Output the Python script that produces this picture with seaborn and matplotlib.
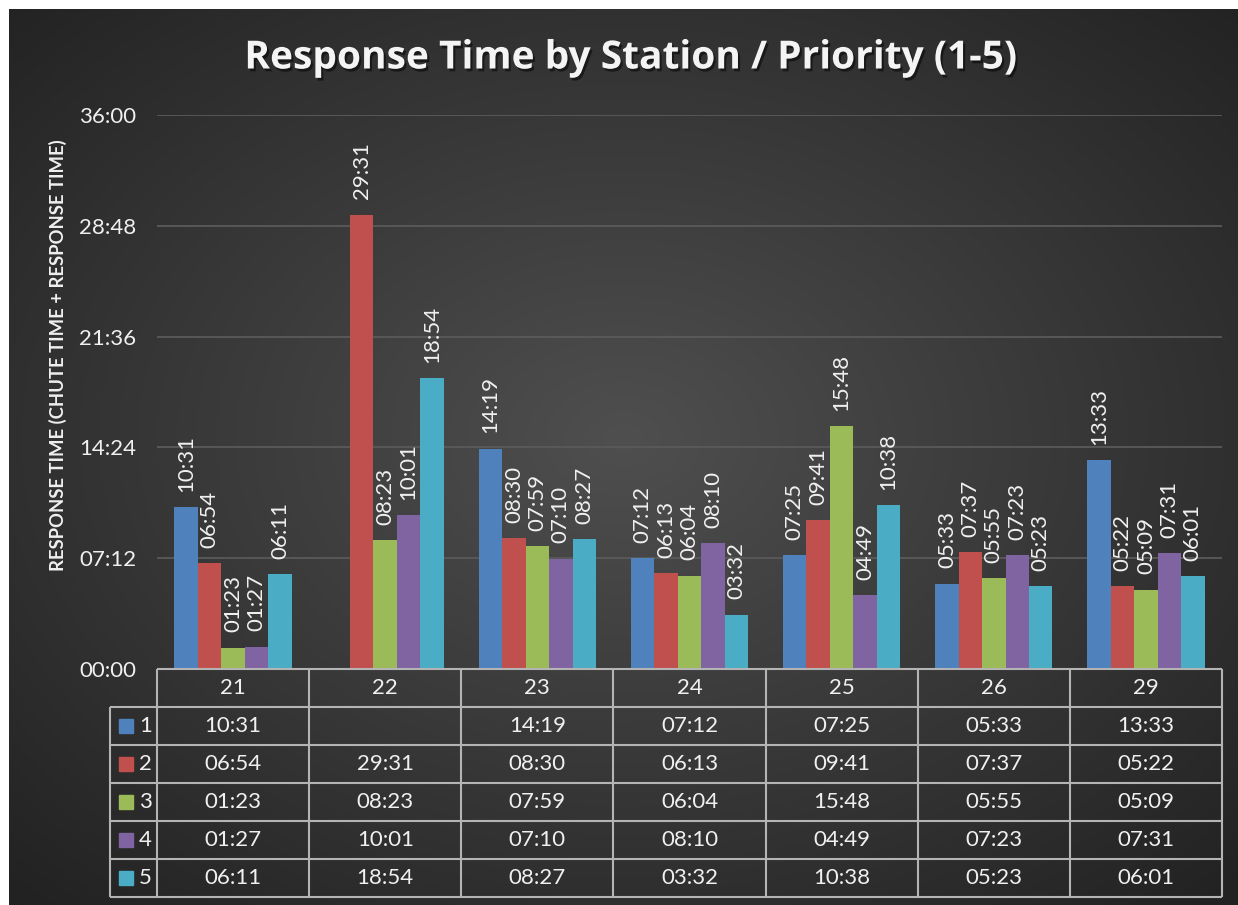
import numpy as np
import matplotlib
matplotlib.use("Agg")
import matplotlib.pyplot as plt
import matplotlib.patheffects as pe
from matplotlib.ticker import FuncFormatter, MultipleLocator
import pandas as pd
import seaborn as sns

# data (mm:ss), station 22 has no priority 1 value
stations = ["21", "22", "23", "24", "25", "26", "29"]
priorities = ["1", "2", "3", "4", "5"]
p1 = ["10:31", None, "14:19", "07:12", "07:25", "05:33", "13:33"]
p2 = ["06:54", "29:31", "08:30", "06:13", "09:41", "07:37", "05:22"]
p3 = ["01:23", "08:23", "07:59", "06:04", "15:48", "05:55", "05:09"]
p4 = ["01:27", "10:01", "07:10", "08:10", "04:49", "07:23", "07:31"]
p5 = ["06:11", "18:54", "08:27", "03:32", "10:38", "05:23", "06:01"]
colors = ["#4F81BD", "#C0504D", "#9BBB59", "#8064A2", "#4BACC6"]
title = "Response Time by Station / Priority (1-5)"
ylabel = "RESPONSE TIME (CHUTE TIME + RESPONSE TIME)"

W, H = 1238, 905
TXT = "#f0f0f0"
GRID = "#5a5a5a"
LINE = "#b4b4b4"
FS = 16


def to_sec(s):
    if s is None:
        return np.nan
    m, sec = s.split(":")
    return int(m) * 60 + int(sec)


def fmt(v):
    v = int(round(v))
    return f"{v // 60:02d}:{v % 60:02d}"


series = [p1, p2, p3, p4, p5]
rows = []
for pr, vals in zip(priorities, series):
    for st, v in zip(stations, vals):
        rows.append({"station": st, "priority": pr, "seconds": to_sec(v)})
df = pd.DataFrame(rows).dropna()

sns.set_theme(style="dark")
plt.rcParams["font.family"] = ["Lato", "DejaVu Sans"]

fig = plt.figure(figsize=(W / 100, H / 100), dpi=100, facecolor="white")

# dark radial gradient background
bg = fig.add_axes([9 / W, 0, (W - 9) / W, (H - 9) / H])
gx, gy = np.meshgrid(np.linspace(0, 1, 400), np.linspace(0, 1, 300))
r = np.sqrt(((gx - 0.5) / 0.75) ** 2 + ((gy - 0.48) / 0.75) ** 2)
r = np.clip(r / 0.95, 0, 1)
c0, c1 = np.array([0x4f, 0x4f, 0x4f]) / 255, np.array([0x22, 0x22, 0x22]) / 255
img = c0[None, None, :] * (1 - r[..., None]) + c1[None, None, :] * r[..., None]
bg.imshow(img, aspect="auto", extent=[0, 1, 0, 1], interpolation="bilinear")
bg.set_axis_off()

# main bar axes
ax_l, ax_r, ax_t, ax_b = 157, 1222, 115, 669
ax = fig.add_axes([ax_l / W, (H - ax_b) / H, (ax_r - ax_l) / W, (ax_b - ax_t) / H])
ax.patch.set_alpha(0)
sns.barplot(data=df, x="station", y="seconds", hue="priority", order=stations,
            hue_order=priorities, palette=colors, width=0.77, saturation=1,
            errorbar=None, legend=False, ax=ax, linewidth=0)
ax.set_xlim(-0.5, len(stations) - 0.5)
ax.set_ylim(0, 2160)
ax.yaxis.set_major_locator(MultipleLocator(432))
ax.yaxis.set_major_formatter(FuncFormatter(lambda v, p: fmt(v)))
ax.grid(axis="y", color=GRID, linewidth=1.3)
ax.grid(axis="x", visible=False)
ax.set_axisbelow(True)
for s in ax.spines.values():
    s.set_visible(False)
ax.set_xticks([])
ax.set_xlabel("")
ax.set_ylabel("")
ax.tick_params(axis="y", colors=TXT, labelsize=FS, length=0, pad=15)

for cont in ax.containers:
    ax.bar_label(cont, fmt=fmt, rotation=90, padding=11, color=TXT, fontsize=FS)

fig.text(58 / W, 1 - 355 / H, ylabel, rotation=90, ha="center", va="center",
         color=TXT, fontsize=13.3, fontweight="bold")

fig.text(630 / W, 1 - 58 / H, title, ha="center", va="center", color="#f4f4f4",
         fontsize=28, fontweight="bold", family=["Open Sans", "DejaVu Sans"],
         path_effects=[pe.withSimplePatchShadow(offset=(1.5, -2), shadow_rgbFace="black", alpha=0.5)])

# data table under the axis
tb_l, tb_b = 110, 897
cat_w = (ax_r - ax_l) / len(stations)
xmin = -0.5 - (ax_l - tb_l) / cat_w
tax = fig.add_axes([tb_l / W, (H - tb_b) / H, (ax_r - tb_l) / W, (tb_b - ax_b) / H])
tax.patch.set_alpha(0)
tax.set_xlim(xmin, len(stations) - 0.5)
nrow = len(priorities) + 1
tax.set_ylim(nrow, 0)
tax.set_axis_off()
lw = 1.5
xe = len(stations) - 0.5
tax.hlines(0, -0.5, xe, color=LINE, lw=lw, clip_on=False)
for j in range(1, nrow + 1):
    tax.hlines(j, xmin, xe, color=LINE, lw=lw, clip_on=False)
for i in range(len(stations) + 1):
    tax.vlines(i - 0.5, 0, nrow, color=LINE, lw=lw, clip_on=False)
tax.vlines(xmin, 1, nrow, color=LINE, lw=lw, clip_on=False)

for i, st in enumerate(stations):
    tax.text(i, 0.5, st, ha="center", va="center", color=TXT, fontsize=FS)
for j, (pr, vals, col) in enumerate(zip(priorities, series, colors)):
    y = j + 1.5
    tax.add_patch(plt.Rectangle((xmin + 0.06, y - 0.18), 0.092, 0.36, color=col, clip_on=False))
    tax.text(xmin + 0.19, y, pr, ha="left", va="center", color=TXT, fontsize=FS)
    for i, v in enumerate(vals):
        if v is not None:
            tax.text(i, y, v, ha="center", va="center", color=TXT, fontsize=FS)

fig.savefig("out.png", dpi=100, facecolor="white")
